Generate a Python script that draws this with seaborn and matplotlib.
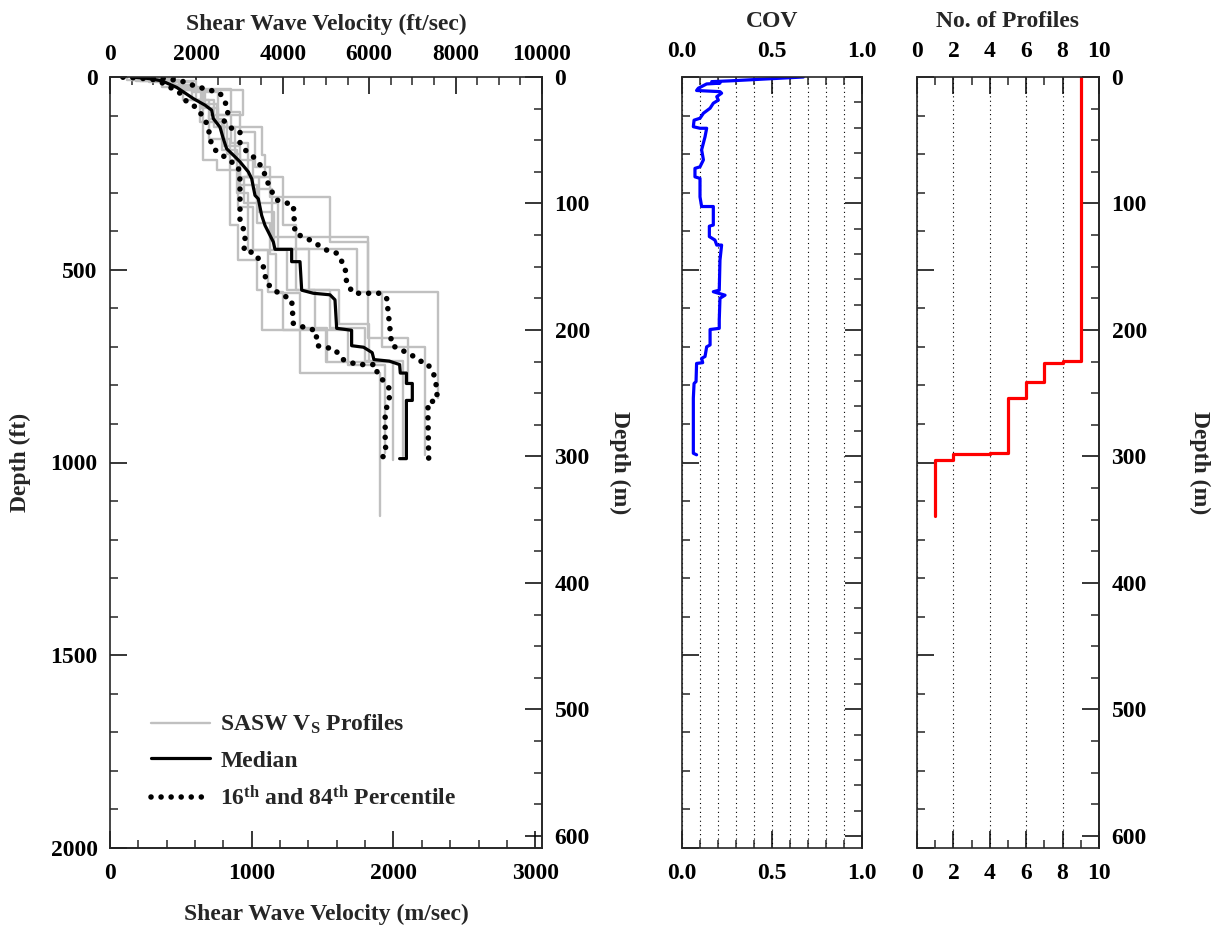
import numpy as np
import matplotlib
matplotlib.use("Agg")
import matplotlib.pyplot as plt
from matplotlib.lines import Line2D
from matplotlib.ticker import MultipleLocator, FormatStrFormatter, NullFormatter
import seaborn as sns

FT_TO_M = 0.3048

# SASW Vs profiles: layer boundaries (ft) and layer velocities (ft/sec)
prof_depths = [
    [0, 8, 25, 60, 117, 215, 241, 384, 475, 553, 656, 768, 1140],
    [0, 10, 34, 117, 190, 300, 449, 557, 656, 740, 993],
    [0, 6, 20, 60, 129, 202, 259, 328, 447, 553, 652, 737, 983],
    [0, 12, 40, 99, 170, 259, 384, 447, 559, 700, 980],
    [0, 8, 34, 99, 160, 241, 336, 449, 553, 656, 746, 975],
    [0, 10, 30, 90, 142, 233, 310, 427, 559, 833],
    [0, 8, 25, 80, 130, 215, 290, 414, 677, 790],
    [0, 10, 30, 70, 117, 200, 280, 380, 460, 560, 652, 740],
    [0, 7, 22, 60, 110, 180, 260, 350, 447, 553, 640, 734],
]
prof_vels = [
    [400, 1200, 1700, 2083, 2160, 2469, 2778, 2970, 3395, 3510, 4398, 6250],
    [700, 1650, 2160, 2600, 2950, 3200, 3650, 4000, 5000, 6560],
    [500, 1450, 2000, 2400, 3510, 3588, 3100, 3900, 4600, 5100, 5900, 6780],
    [900, 1900, 2500, 2800, 3200, 3997, 4300, 5710, 6300, 7292],
    [600, 1600, 3080, 2300, 2778, 2970, 3300, 4100, 4745, 5500, 6370],
    [1000, 2000, 2800, 3000, 3350, 3700, 5093, 5980, 7600],
    [700, 1500, 2100, 2500, 2900, 3300, 3750, 5980, 6900],
    [600, 1700, 2200, 2470, 2700, 3000, 3400, 3700, 3850, 4400, 5015],
    [500, 1400, 1900, 2300, 2650, 3000, 3450, 3800, 4300, 5300, 6000],
]

# median profile (ft/sec, ft)
med_vs = [500, 900, 1200, 1544, 1929, 2199, 2353, 2392, 2546, 2623, 2700, 2894, 3009,
          3202, 3280, 3356, 3433, 3511, 3588, 3665, 3781, 3819, 4205, 4205, 4398, 4437,
          4707, 5093, 5208, 5247, 5593, 5593, 5870, 6069, 6109, 6465, 6704, 6720, 6861,
          6861, 6998, 6998, 6861, 6861, 6704]
med_depth = [0, 4, 10, 27, 56, 73, 86, 108, 130, 160, 186, 207, 220,
             246, 264, 307, 316, 359, 385, 402, 428, 447, 447, 479, 479, 553,
             561, 565, 578, 652, 657, 697, 701, 715, 733, 737, 746, 768, 768,
             795, 795, 839, 839, 990, 990]

# 16th percentile
p16_vs = [300, 700, 1100, 1427, 1620, 1736, 1968, 2160, 2276, 2315, 2430, 2700, 2970,
          3009, 3009, 3125, 3125, 3086, 3356, 3549, 3627, 3858, 4205, 4244, 4552, 4762,
          4801, 5197, 5396, 5713, 6148, 6187, 6465, 6465, 6370, 6370, 6387, 6292]
p16_depth = [0, 3, 8, 29, 42, 60, 77, 103, 129, 163, 189, 211, 233,
             267, 371, 405, 440, 449, 457, 492, 535, 557, 578, 639, 652, 657,
             697, 706, 733, 746, 746, 768, 808, 835, 870, 946, 972, 990]

# 84th percentile
p84_vs = [300, 800, 1300, 1697, 2006, 2315, 2546, 2662, 2739, 2623, 2816, 3009, 3009,
          3125, 3317, 3511, 3588, 3704, 3858, 4244, 4282, 4630, 5015, 5247, 5440, 5479,
          5633, 6250, 6404, 6443, 6520, 6713, 6903, 7179, 7338, 7496, 7576, 7560, 7361,
          7361, 7377]
p84_depth = [0, 1, 4, 12, 25, 34, 42, 64, 90, 112, 133, 142, 172,
             189, 207, 233, 254, 289, 319, 332, 405, 423, 449, 457, 492, 535,
             561, 561, 574, 613, 695, 708, 715, 737, 741, 772, 812, 839, 844,
             888, 990]

# coefficient of variation
cov_values = [0.674, 0.267, 0.165, 0.211, 0.137, 0.091, 0.081, 0.211, 0.220, 0.193,
              0.202, 0.174, 0.156, 0.119, 0.100, 0.067, 0.063, 0.100, 0.137, 0.128,
              0.109, 0.119, 0.100, 0.072, 0.072, 0.100, 0.100, 0.109, 0.174, 0.174,
              0.152, 0.152, 0.183, 0.193, 0.220, 0.211, 0.207, 0.174, 0.239, 0.211,
              0.207, 0.207, 0.156, 0.156, 0.137, 0.128, 0.109, 0.115, 0.081, 0.078,
              0.067, 0.063, 0.063, 0.081]
cov_depth = [0, 10, 12, 16, 18, 29, 35, 38, 42, 51,
             60, 68, 81, 94, 107, 112, 129, 133, 133, 155,
             189, 215, 233, 237, 259, 263, 311, 336, 336, 384,
             387, 414, 423, 436, 436, 475, 553, 557, 566, 574,
             630, 652, 655, 695, 700, 725, 730, 741, 743, 790,
             795, 833, 976, 980]

# number of profiles
nprof_bounds = [0, 736, 741, 790, 833, 976, 977, 978, 993, 1140]
nprof_counts = [9, 8, 7, 6, 5, 4, 3, 2, 1]


def step_path(bounds, vals):
    xs = np.repeat(vals, 2)
    ys = np.column_stack([bounds[:-1], bounds[1:]]).ravel()
    return xs, ys


sns.set_style("ticks")
plt.rcParams["font.family"] = ["Liberation Serif", "DejaVu Serif"]
plt.rcParams["font.weight"] = "bold"
plt.rcParams["axes.labelweight"] = "bold"
plt.rcParams["mathtext.fontset"] = "custom"
plt.rcParams["mathtext.rm"] = "Liberation Serif:bold"
plt.rcParams["mathtext.it"] = "Liberation Serif:bold"
plt.rcParams["mathtext.bf"] = "Liberation Serif:bold"
plt.rcParams["mathtext.default"] = "rm"
plt.rcParams["axes.linewidth"] = 1.2

FS = 17
tick_kw = dict(direction="in", labelsize=FS, width=1.1, colors="black")

fig = plt.figure(figsize=(12.16, 9.26), dpi=100)
W, H = 1216, 926
bot = 1 - 848 / H
hgt = 771 / H
ax1 = fig.add_axes([110 / W, bot, 432 / W, hgt])
ax2 = fig.add_axes([682 / W, bot, 180 / W, hgt])
ax3 = fig.add_axes([917 / W, bot, 182 / W, hgt])

dots = (0, (0.01, 1.8))
gray = "#c0c0c0"

# ---- velocity profiles
for d, v in zip(prof_depths, prof_vels):
    xs, ys = step_path(d, v)
    sns.lineplot(x=xs, y=ys, ax=ax1, sort=False, estimator=None,
                 color=gray, lw=1.7, legend=False)
sns.lineplot(x=med_vs, y=med_depth, ax=ax1, sort=False, estimator=None,
             color="black", lw=2.3, legend=False)
for xs, ys in [(p16_vs, p16_depth), (p84_vs, p84_depth)]:
    sns.lineplot(x=xs, y=ys, ax=ax1, sort=False, estimator=None, color="black",
                 lw=4.0, linestyle=dots, dash_capstyle="round", legend=False)

ax1.set_xlim(0, 10000)
ax1.set_ylim(2000, 0)
ax1.xaxis.tick_top()
ax1.xaxis.set_label_position("top")
ax1.set_xlabel("Shear Wave Velocity (ft/sec)", fontsize=FS, labelpad=10)
ax1.set_ylabel("Depth (ft)", fontsize=FS, labelpad=14)
ax1.xaxis.set_major_locator(MultipleLocator(2000))
ax1.xaxis.set_minor_locator(MultipleLocator(500))
ax1.yaxis.set_major_locator(MultipleLocator(500))
ax1.yaxis.set_minor_locator(MultipleLocator(100))
ax1.tick_params(which="major", length=12, pad=9, **tick_kw)
ax1.tick_params(which="minor", length=6, direction="in", width=1.1)

bx = ax1.secondary_xaxis("bottom", functions=(lambda v: v * FT_TO_M, lambda v: v / FT_TO_M))
bx.xaxis.set_major_locator(MultipleLocator(1000))
bx.xaxis.set_minor_locator(MultipleLocator(200))
bx.tick_params(which="major", length=12, pad=11, **tick_kw)
bx.tick_params(which="minor", length=6, direction="in", width=1.1)
bx.set_xlabel("Shear Wave Velocity (m/sec)", fontsize=FS, labelpad=14)

ry = ax1.secondary_yaxis("right", functions=(lambda d: d * FT_TO_M, lambda d: d / FT_TO_M))
ry.yaxis.set_major_locator(MultipleLocator(100))
ry.yaxis.set_minor_locator(MultipleLocator(25))
ry.tick_params(which="major", length=12, pad=9, **tick_kw)
ry.tick_params(which="minor", length=6, direction="in", width=1.1)
ry.set_ylabel("Depth (m)", fontsize=FS, rotation=270, va="bottom", labelpad=14)

handles = [
    Line2D([], [], color=gray, lw=1.7),
    Line2D([], [], color="black", lw=2.3),
    Line2D([], [], color="black", lw=4.0, linestyle=dots, dash_capstyle="round"),
]
labels = ["SASW V$_{S}$ Profiles", "Median", "16$^{th}$ and 84$^{th}$ Percentile"]
ax1.legend(handles, labels, loc="lower left", bbox_to_anchor=(0.045, 0.022),
           frameon=False, fontsize=FS, handlelength=2.5, handletextpad=0.45,
           labelspacing=0.58)

# ---- COV
sns.lineplot(x=cov_values, y=cov_depth, ax=ax2, sort=False, estimator=None,
             color="#0000ff", lw=2.3, legend=False)
ax2.set_xlim(0, 1)
ax2.set_ylim(2000, 0)
ax2.xaxis.set_major_locator(MultipleLocator(0.5))
ax2.xaxis.set_minor_locator(MultipleLocator(0.1))
ax2.xaxis.set_major_formatter(FormatStrFormatter("%.1f"))
ax2.xaxis.set_ticks_position("both")
ax2.xaxis.set_label_position("top")
ax2.set_xlabel("COV", fontsize=FS, labelpad=10)
ax2.yaxis.set_major_locator(MultipleLocator(500))
ax2.yaxis.set_minor_locator(MultipleLocator(100))
ax2.yaxis.set_major_formatter(NullFormatter())
ax2.tick_params(which="major", length=12, pad=9, labeltop=True, labelbottom=True, **tick_kw)
ax2.tick_params(which="minor", length=6, direction="in", width=1.1)
ax2.tick_params(axis="x", which="major", pad=11)
ax2.grid(axis="x", which="both", linestyle=(0, (1, 3)), color="black", lw=0.8)

ry2 = ax2.secondary_yaxis("right", functions=(lambda d: d * FT_TO_M, lambda d: d / FT_TO_M))
ry2.yaxis.set_major_locator(MultipleLocator(100))
ry2.yaxis.set_minor_locator(MultipleLocator(20))
ry2.yaxis.set_major_formatter(NullFormatter())
ry2.tick_params(which="major", length=12, **tick_kw)
ry2.tick_params(which="minor", length=6, direction="in", width=1.1)

# ---- number of profiles
xs, ys = step_path(nprof_bounds, nprof_counts)
sns.lineplot(x=xs, y=ys, ax=ax3, sort=False, estimator=None,
             color="#ff0000", lw=2.3, legend=False)
ax3.set_xlim(0, 10)
ax3.set_ylim(2000, 0)
ax3.xaxis.set_major_locator(MultipleLocator(2))
ax3.xaxis.set_minor_locator(MultipleLocator(1))
ax3.xaxis.set_ticks_position("both")
ax3.xaxis.set_label_position("top")
ax3.set_xlabel("No. of Profiles", fontsize=FS, labelpad=10)
ax3.yaxis.set_major_locator(MultipleLocator(500))
ax3.yaxis.set_minor_locator(MultipleLocator(100))
ax3.yaxis.set_major_formatter(NullFormatter())
ax3.tick_params(which="major", length=12, pad=9, labeltop=True, labelbottom=True, **tick_kw)
ax3.tick_params(which="minor", length=6, direction="in", width=1.1)
ax3.tick_params(axis="x", which="major", pad=11)
ax3.grid(axis="x", which="major", linestyle=(0, (1, 3)), color="black", lw=0.8)

ry3 = ax3.secondary_yaxis("right", functions=(lambda d: d * FT_TO_M, lambda d: d / FT_TO_M))
ry3.yaxis.set_major_locator(MultipleLocator(100))
ry3.yaxis.set_minor_locator(MultipleLocator(25))
ry3.tick_params(which="major", length=12, pad=9, **tick_kw)
ry3.tick_params(which="minor", length=6, direction="in", width=1.1)
ry3.set_ylabel("Depth (m)", fontsize=FS, rotation=270, va="bottom", labelpad=30)

fig.savefig("out.png", dpi=100, facecolor="white")
